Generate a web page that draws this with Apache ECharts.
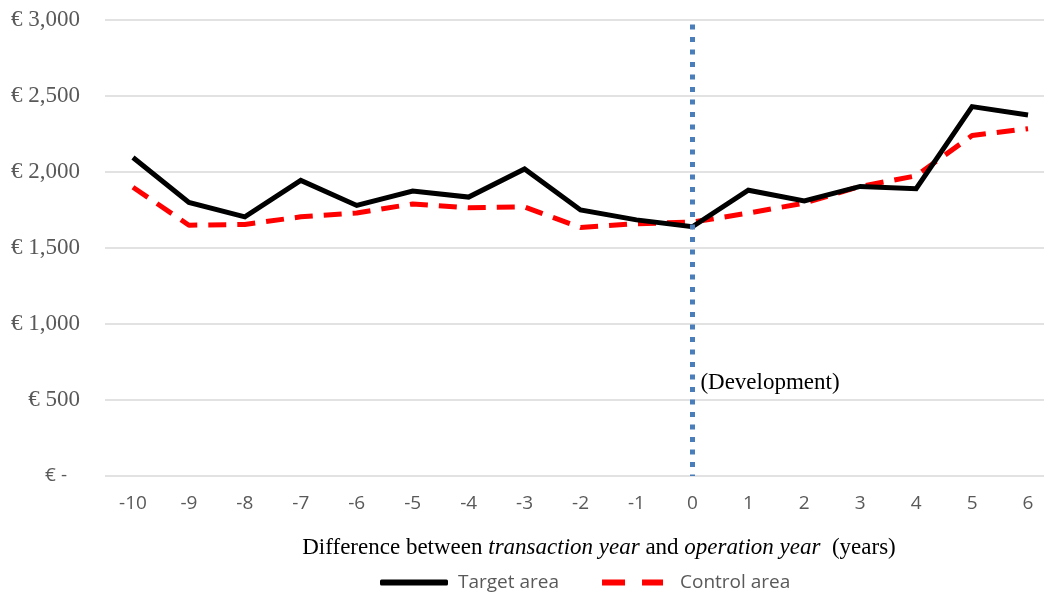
<!DOCTYPE html>
<html>
<head>
<meta charset="utf-8">
<script src="https://cdn.jsdelivr.net/npm/echarts@6/dist/echarts.min.js"></script>
<style>html,body{margin:0;padding:0;background:#fff;overflow:hidden;width:1044px;height:596px}#c{width:1056px;height:596px}</style>
</head>
<body>
<div id="c"></div>
<script>
const categories = ['-10','-9','-8','-7','-6','-5','-4','-3','-2','-1','0','1','2','3','4','5','6'];
const targetArea = [2095, 1800, 1705, 1945, 1780, 1875, 1835, 2020, 1750, 1685, 1640, 1880, 1810, 1905, 1890, 2430, 2375];
const controlArea = [1900, 1650, 1655, 1705, 1730, 1790, 1765, 1770, 1635, 1660, 1670, 1730, 1795, 1905, 1975, 2240, 2285];
const yTicks = [0, 500, 1000, 1500, 2000, 2500, 3000];
const developmentYear = '0';
const developmentLabel = '(Development)';
const developmentLabelValue = 610;
const developmentLineTop = 2970;

const serif = '"Liberation Serif", "DejaVu Serif", serif';
const sans = '"Open Sans", "Liberation Sans", sans-serif';
const chart = echarts.init(document.getElementById('c'));
chart.setOption({
  animation: false,
  backgroundColor: '#fff',
  grid: { left: 105, right: 0, top: 20, bottom: 120, containLabel: false },
  legend: {
    left: 380, top: 573, padding: 0,
    itemWidth: 68, itemHeight: 6, itemGap: 43,
    lineStyle: { width: 0, type: 'solid' },
    itemStyle: { borderWidth: 0 },
    textStyle: { fontFamily: sans, fontSize: 19, color: '#595959', padding: [0, 0, 0, 5] },
    data: [
      { name: 'Target area', icon: 'roundRect' },
      { name: 'Control area', icon: 'path://M0,0h23v6h-23z M40,0h21v6h-21z M68,0L68,6' }
    ]
  },
  xAxis: {
    type: 'category',
    data: categories,
    boundaryGap: true,
    axisLine: { show: false },
    axisTick: { show: false },
    axisLabel: { fontFamily: sans, fontSize: 19, color: '#595959', margin: 18 },
    name: '{n|Difference between }{i|transaction year}{n| and }{i|operation year}{n|  (years)}',
    nameLocation: 'middle',
    nameGap: 60,
    nameTextStyle: {
      padding: [0, 0, 0, 37],
      rich: {
        n: { fontFamily: serif, fontSize: 23, color: '#000' },
        i: { fontFamily: serif, fontSize: 23, color: '#000', fontStyle: 'italic' }
      }
    }
  },
  yAxis: {
    type: 'value',
    min: yTicks[0], max: yTicks[yTicks.length - 1], interval: yTicks[1] - yTicks[0],
    axisLine: { show: false },
    axisTick: { show: false },
    splitLine: { lineStyle: { color: '#d9d9d9', width: 1.5 } },
    axisLabel: {
      fontFamily: serif, fontSize: 23, color: '#595959', margin: 25,
      formatter: v => v === 0 ? '{s|€ -}' : '€ ' + v.toLocaleString('en-US'),
      rich: { s: { fontFamily: sans, fontSize: 19, color: '#595959', padding: [0, 13, 0, 0] } }
    }
  },
  series: [
    {
      name: 'Target area', type: 'line', data: targetArea,
      symbol: 'none', z: 4,
      lineStyle: { color: '#000', width: 5, join: 'miter' },
      itemStyle: { color: '#000' },
      markLine: {
        silent: true, symbol: 'none',
        label: { show: false },
        lineStyle: { color: '#4a7ebb', width: 5, type: [5, 7.5] },
        data: [[{ coord: [developmentYear, developmentLineTop] }, { coord: [developmentYear, 0] }]]
      },
      markPoint: {
        silent: true,
        symbol: 'circle', symbolSize: 0,
        label: {
          show: true, position: 'right', distance: 8,
          fontFamily: serif, fontSize: 23, color: '#000',
          formatter: developmentLabel
        },
        data: [{ coord: [developmentYear, developmentLabelValue] }]
      }
    },
    {
      name: 'Control area', type: 'line', data: controlArea,
      symbol: 'none', z: 3,
      lineStyle: { color: '#ff0000', width: 5, type: [18, 11] },
      itemStyle: { color: '#ff0000' }
    }
  ]
});
</script>
</body>
</html>
